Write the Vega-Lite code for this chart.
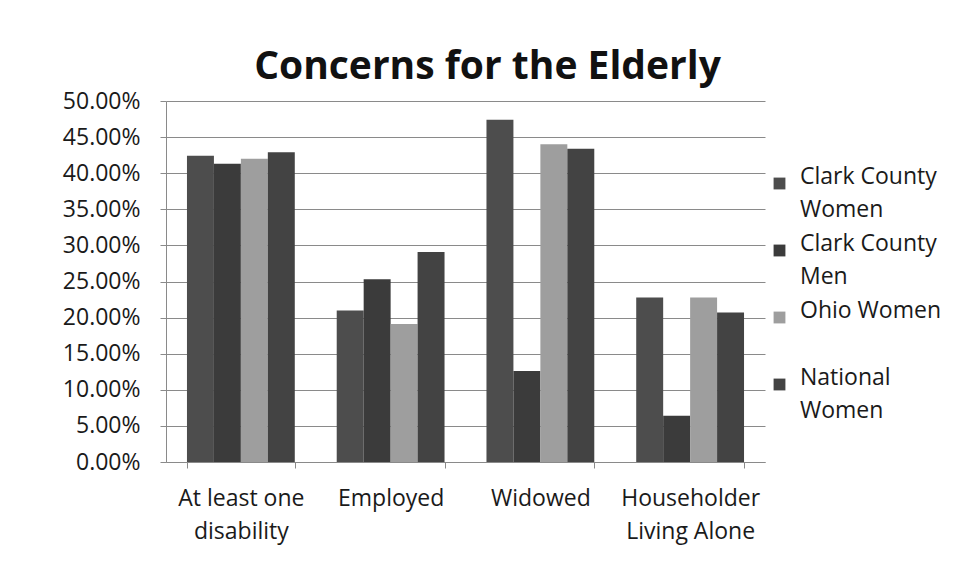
{
  "$schema": "https://vega.github.io/schema/vega-lite/v6.json",
  "width": 599,
  "height": 361,
  "autosize": {"type": "none"},
  "padding": {"left": 166, "top": 101, "right": 193, "bottom": 121},
  "background": "white",
  "title": {
    "text": "Concerns for the Elderly",
    "font": "Open Sans",
    "fontSize": 39,
    "fontWeight": "bold",
    "color": "#111111",
    "offset": 3,
    "dx": 22
  },
  "data": {
    "values": [
      {"category": "At least one disability", "series": "Clark County Women", "value": 0.424},
      {"category": "At least one disability", "series": "Clark County Men", "value": 0.413},
      {"category": "At least one disability", "series": "Ohio Women", "value": 0.420},
      {"category": "At least one disability", "series": "National Women", "value": 0.429},
      {"category": "Employed", "series": "Clark County Women", "value": 0.210},
      {"category": "Employed", "series": "Clark County Men", "value": 0.253},
      {"category": "Employed", "series": "Ohio Women", "value": 0.191},
      {"category": "Employed", "series": "National Women", "value": 0.291},
      {"category": "Widowed", "series": "Clark County Women", "value": 0.474},
      {"category": "Widowed", "series": "Clark County Men", "value": 0.126},
      {"category": "Widowed", "series": "Ohio Women", "value": 0.440},
      {"category": "Widowed", "series": "National Women", "value": 0.434},
      {"category": "Householder Living Alone", "series": "Clark County Women", "value": 0.228},
      {"category": "Householder Living Alone", "series": "Clark County Men", "value": 0.064},
      {"category": "Householder Living Alone", "series": "Ohio Women", "value": 0.228},
      {"category": "Householder Living Alone", "series": "National Women", "value": 0.207}
    ]
  },
  "mark": {"type": "bar"},
  "encoding": {
    "x": {
      "field": "category",
      "type": "nominal",
      "sort": ["At least one disability", "Employed", "Widowed", "Householder Living Alone"],
      "scale": {"paddingInner": 0.28, "paddingOuter": 0.14},
      "axis": {
        "title": null,
        "labelAngle": 0,
        "labelFont": "Open Sans",
        "labelFontSize": 23,
        "labelColor": "#1a1a1a",
        "labelPadding": 19,
        "labelBaseline": "top",
        "tickBand": "extent",
        "tickSize": 6,
        "tickColor": "#8a8a8a",
        "domainColor": "#8a8a8a",
        "labelExpr": "datum.label == 'At least one disability' ? ['At least one', 'disability'] : datum.label == 'Householder Living Alone' ? ['Householder', 'Living Alone'] : datum.label"
      }
    },
    "xOffset": {
      "field": "series",
      "type": "nominal",
      "sort": ["Clark County Women", "Clark County Men", "Ohio Women", "National Women"]
    },
    "y": {
      "field": "value",
      "type": "quantitative",
      "scale": {"domain": [0, 0.5], "nice": false},
      "axis": {
        "title": null,
        "format": ".2%",
        "values": [0, 0.05, 0.1, 0.15, 0.2, 0.25, 0.3, 0.35, 0.4, 0.45, 0.5],
        "labelFont": "Open Sans",
        "labelFontSize": 23,
        "labelColor": "#1a1a1a",
        "labelPadding": 20,
        "tickSize": 6,
        "tickColor": "#8a8a8a",
        "domainColor": "#8a8a8a",
        "gridColor": "#8a8a8a",
        "grid": true
      }
    },
    "color": {
      "field": "series",
      "type": "nominal",
      "sort": ["Clark County Women", "Clark County Men", "Ohio Women", "National Women"],
      "scale": {
        "domain": ["Clark County Women", "Clark County Men", "Ohio Women", "National Women"],
        "range": ["#4d4d4d", "#3b3b3b", "#9e9e9e", "#434343"]
      },
      "legend": {
        "title": null,
        "orient": "none",
        "legendX": 602,
        "legendY": 71,
        "symbolType": "square",
        "symbolSize": 140,
        "symbolStrokeWidth": 0,
        "labelFont": "Open Sans",
        "labelFontSize": 23,
        "labelColor": "#1a1a1a",
        "labelBaseline": "alphabetic",
        "labelOffset": 9,
        "labelLimit": 200,
        "gridAlign": "all",
        "rowPadding": 10,
        "labelExpr": "datum.label == 'Clark County Women' ? ['Clark County', 'Women'] : datum.label == 'Clark County Men' ? ['Clark County', 'Men'] : datum.label == 'National Women' ? ['National', 'Women'] : [datum.label, ' ']"
      }
    }
  },
  "config": {
    "view": {"stroke": null},
    "style": {"guide-label": {"lineHeight": 33}}
  }
}
